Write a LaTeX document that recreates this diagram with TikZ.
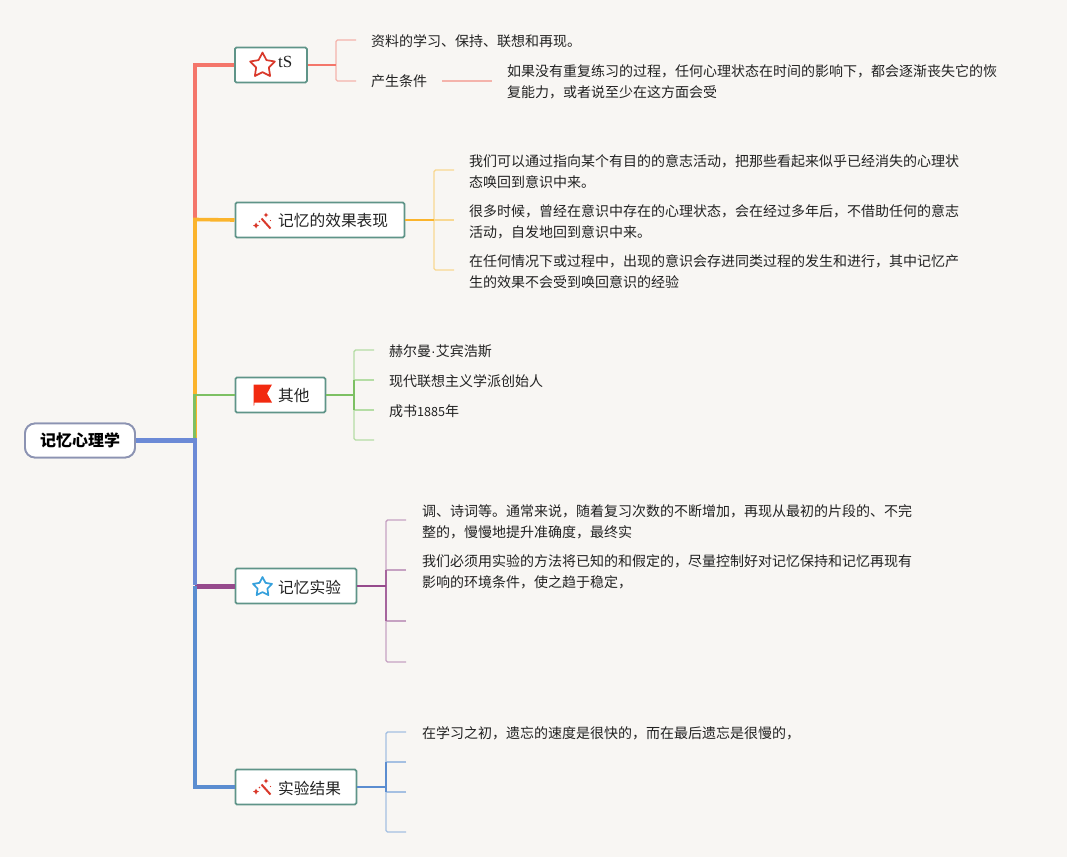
\documentclass[tikz,border=0pt]{standalone}
\usepackage{fontspec}
\setmainfont{Noto Sans CJK SC}
\newfontfamily\serifrm{Liberation Serif}
\newfontfamily\sansrm{Liberation Sans}
\usetikzlibrary{shapes.geometric}
\definecolor{bgc}{HTML}{F8F6F3}
\definecolor{boxb}{HTML}{5F9488}
\definecolor{rootb}{HTML}{8C93B2}
\definecolor{redA}{HTML}{F4766A}\definecolor{redB}{HTML}{F4B3AB}
\definecolor{orgA}{HTML}{FBB42C}\definecolor{orgB}{HTML}{F8D892}
\definecolor{grnA}{HTML}{7DC063}\definecolor{grnB}{HTML}{B5DDA5}
\definecolor{purA}{HTML}{964A8C}\definecolor{purB}{HTML}{C6A2C2}
\definecolor{bluA}{HTML}{5B8DD0}\definecolor{bluB}{HTML}{A5C0E2}
\definecolor{periw}{HTML}{6C8AD6}
\definecolor{txt}{HTML}{222222}
\definecolor{iconred}{HTML}{D9392B}
\definecolor{flagred}{HTML}{F22A10}
\definecolor{starblue}{HTML}{35A0DC}
\tikzset{
  x=1pt,y=-1pt,
  rootnode/.style={draw=rootb,line width=1.8pt,rounded corners=10pt,fill=white,minimum width=110pt,minimum height=34pt,inner sep=0pt,font=\fontsize{16}{20}\selectfont\bfseries,text=black},
  topic/.style={draw=boxb,line width=1.8pt,rounded corners=1.5pt,fill=white,minimum height=35pt,inner sep=0pt,anchor=west},
  lbl/.style={anchor=west,inner sep=0pt,font=\fontsize{15.7}{20}\selectfont,text=txt},
  leaf/.style={anchor=west,inner sep=0pt,align=left,font=\fontsize{14}{21}\selectfont,text=txt},
  trunk/.style={line width=#1,line cap=butt},
  stem/.style={line width=1.8pt},
  tick/.style={line width=1.4pt,rounded corners=1.5pt},
  staricon/.style={star,star points=5,star point ratio=1.95,inner sep=0pt,minimum size=#1,fill=white,line width=1.7pt,line join=round},
  wand/.pic={
    \draw[iconred,line width=2pt] (-1.5,-3.5) -- (7.5,6.5);
    \fill[iconred] (-7,0.5) -- (-6,2.5) -- (-4,3.5) -- (-6,4.5) -- (-7,6.5) -- (-8,4.5) -- (-10,3.5) -- (-8,2.5) -- cycle;
    \fill[iconred] (3,-9.5) -- (3.8,-7.8) -- (5.5,-7) -- (3.8,-6.2) -- (3,-4.5) -- (2.2,-6.2) -- (0.5,-7) -- (2.2,-7.8) -- cycle;
    \fill[iconred] (7.5,-1.5) circle (0.7);
    \fill[iconred] (-3.5,-0.5) circle (0.9);
  }
}
\begin{document}
\begin{tikzpicture}
\useasboundingbox[fill=bgc] (0,0) rectangle (1067,857);
% trunk junctions
\coordinate (jA) at (195,65);
\coordinate (jB) at (195,219.5);
\coordinate (jC) at (194.5,395);
\coordinate (jR) at (195,440.5);
\coordinate (jD) at (195,586);
\coordinate (jE) at (195,787);
% topic nodes
\node[rootnode] (root) at (80,440.5) {};
\node[topic,minimum width=72pt] (t1) at (234,65) {};
\node[topic,minimum width=169pt] (t2) at (234.5,220) {};
\node[topic,minimum width=90pt] (t3) at (234.5,395) {};
\node[topic,minimum width=121pt] (t4) at (234.5,586) {};
\node[topic,minimum width=121pt] (t5) at (234.5,787) {};
% trunk
\draw[trunk=4pt,redA] (t1.west) -- (jA) -- ([yshift=1pt]jB);
\draw[trunk=3.6pt,orgA] (t2.west) -- (jB) -- (jR);
\draw[trunk=2.2pt,grnA] (t3.west) -- (jC) -- ([xshift=-0.5pt]jR);
\draw[trunk=5pt,purA] (t4.west) -- (jD);
\draw[trunk=4.6pt,bluA] (t5.west) -- (jE) -- (jD);
\draw[trunk=4.6pt,periw] (root.east) -- (jR) -- ([yshift=1pt]jD);
\node[rootnode] at (root) {\raisebox{-1pt}{记忆心理学}};
% topic contents
\node[staricon=26pt,draw=iconred] (s1) at (262.5,65.5) {};
\node[lbl,font=\fontsize{17}{20}\selectfont\serifrm] (l1) at (278,62) {tS};
\pic at (263,222) {wand};
\node[lbl] (l2) at (278,221) {记忆的效果表现};
\fill[flagred] (253.5,384.5) -- (272,384.5) -- (267,393.5) -- (272,402.5) -- (254.5,402.5) -- (254.2,405.5) -- (253.5,405.5) -- cycle;
\node[lbl] (l3) at (278,396) {其他};
\node[staricon=20pt,draw=starblue] (s4) at (262.5,587) {};
\node[lbl] (l4) at (278,587) {记忆实验};
\pic at (263,788) {wand};
\node[lbl] (l5) at (278,788) {实验结果};
% leaves
\node[leaf] (a1) at (371,41) {资料的学习、保持、联想和再现。};
\node[leaf] (a2) at (371,81) {产生条件};
\node[leaf] (a3) at (507,81.5) {如果没有重复练习的过程，任何心理状态在时间的影响下，都会逐渐丧失它的恢\\复能力，或者说至少在这方面会受};
\node[leaf] (b1) at (469,171.5) {我们可以通过指向某个有目的的意志活动，把那些看起来似乎已经消失的心理状\\态唤回到意识中来。};
\node[leaf] (b2) at (469,221.5) {很多时候，曾经在意识中存在的心理状态，会在经过多年后，不借助任何的意志\\活动，自发地回到意识中来。};
\node[leaf] (b3) at (469,271.5) {在任何情况下或过程中，出现的意识会存进同类过程的发生和进行，其中记忆产\\生的效果不会受到唤回意识的经验};
\node[leaf] (c1) at (389,351) {赫尔曼{\sansrm ·}艾宾浩斯};
\node[leaf] (c2) at (389,381) {现代联想主义学派创始人};
\node[leaf] (c3) at (389,411) {成书{\fontsize{12.6}{21}\selectfont 1885}年};
\node[leaf] (d1) at (422,521.5) {调、诗词等。通常来说，随着复习次数的不断增加，再现从最初的片段的、不完\\整的，慢慢地提升准确度，最终实};
\node[leaf] (d2) at (422,571.5) {我们必须用实验的方法将已知的和假定的，尽量控制好对记忆保持和记忆再现有\\影响的环境条件，使之趋于稳定，};
\node[leaf] (e1) at (422,733) {在学习之初，遗忘的速度是很快的，而在最后遗忘是很慢的，};
% free ends
\coordinate (br1) at (336,65);
\coordinate (a1e) at (356,40); \coordinate (a2e) at (356,81);
\coordinate (br2) at (434,220);
\coordinate (b1e) at (454,170); \coordinate (b2e) at (454,220); \coordinate (b3e) at (454,270);
\coordinate (br3) at (354,395);
\coordinate (c1e) at (374,350); \coordinate (c2e) at (374,380); \coordinate (c3e) at (374,410); \coordinate (c4e) at (374,440);
\coordinate (br4) at (386,586);
\coordinate (d1e) at (406,520); \coordinate (d2e) at (406,570); \coordinate (d3e) at (406,621); \coordinate (d4e) at (406,662);
\coordinate (br5) at (386,787);
\coordinate (e1e) at (406,732); \coordinate (e2e) at (406,762); \coordinate (e3e) at (406,792); \coordinate (e4e) at (406,832);
% red
\draw[tick,redB] (a1e) -| (br1) |- (a2e);
\draw[stem,redA] (t1.east) -- (br1);
\draw[tick,redB] ([xshift=15pt]a2.east) -- ([xshift=-15pt]a3.west |- a2.east);
% orange
\draw[tick,orgB] (b1e) -| (br2) |- (b3e);
\draw[tick,orgB] (br2) -- (b2e);
\draw[stem,orgA] (t2.east) -- (br2);
% green
\draw[tick,grnB] (c1e) -| (br3) |- (c4e);
\draw[tick,grnB] (c2e) -- (br3 |- c2e);
\draw[tick,grnB] (c3e) -- (br3 |- c3e);
\draw[tick,grnA] (br3 |- c2e) -- (br3 |- c3e);
\draw[stem,grnA] (t3.east) -- (br3);
% purple
\draw[tick,purB] (d1e) -| (br4) |- (d4e);
\draw[tick,purB] (d2e) -- (br4 |- d2e);
\draw[tick,purB] (d3e) -- (br4 |- d3e);
\draw[tick,purA!85!white] (br4 |- d2e) -- (br4 |- d3e);
\draw[stem,purA] (t4.east) -- (br4);
% blue
\draw[tick,bluB] (e1e) -| (br5) |- (e4e);
\draw[tick,bluB] (e2e) -- (br5 |- e2e);
\draw[tick,bluB] (e3e) -- (br5 |- e3e);
\draw[tick,bluA] (br5 |- e2e) -- (br5 |- e3e);
\draw[stem,bluA] (t5.east) -- (br5);
\end{tikzpicture}
\end{document}
